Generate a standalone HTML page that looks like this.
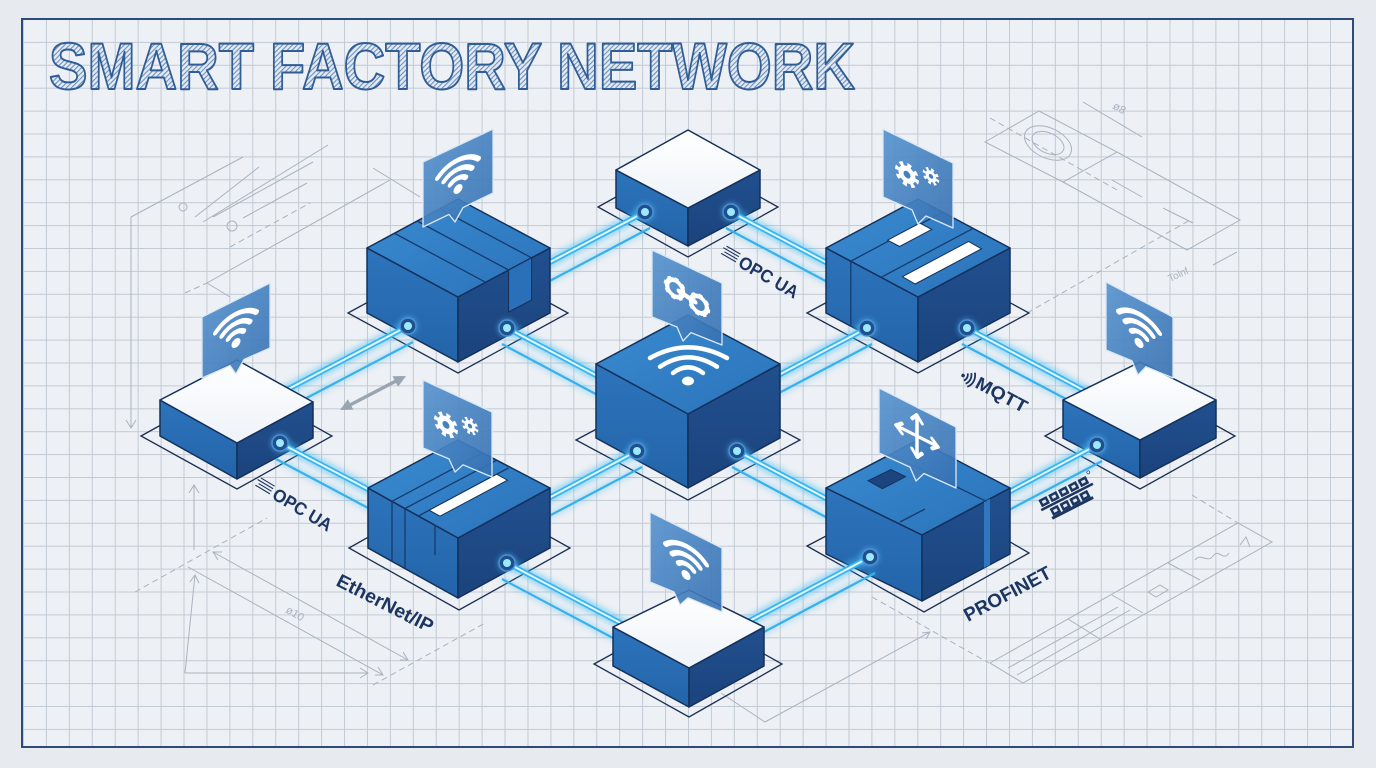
<!DOCTYPE html>
<html><head><meta charset="utf-8"><style>
html,body{margin:0;padding:0;background:#e7ebef;}
svg{display:block}
.cg{stroke:#45bdf5;stroke-width:11;opacity:.5;filter:url(#blur);fill:none;stroke-linecap:round}
.cg2{stroke:#45bdf5;stroke-width:6;opacity:.35;filter:url(#blur);fill:none}
.cm{stroke:#36b4f0;stroke-width:5.5;stroke-linecap:round;fill:none}
.cc{stroke:#e2f9ff;stroke-width:2;stroke-linecap:round;fill:none}
.cs{stroke:#37b0ec;stroke-width:2.2;fill:none}
.ol{stroke:#14305a;stroke-width:1.5;stroke-linejoin:round}
.pl{fill:none;stroke:#1b2f52;stroke-width:1.3}
.sk{fill:none;stroke:#a9b3bf;stroke-width:1}
.skd{fill:none;stroke:#a9b3bf;stroke-width:1;stroke-dasharray:6 4}
.bub{fill:url(#gBub);stroke:#dbe8f5;stroke-width:1.3;stroke-linejoin:round}
.lbl{font-weight:bold;fill:#1c3561}
</style></head><body>
<svg width="1376" height="768" viewBox="0 0 1376 768" xmlns="http://www.w3.org/2000/svg" font-family="'Liberation Sans', Arial, sans-serif">
<defs>
<pattern id="grid" x="23" y="19" width="22.93" height="22.9" patternUnits="userSpaceOnUse"><path d="M0 0.5H23M0.5 0V23" stroke="#c3cbd5" stroke-width="1" fill="none"/></pattern>
<pattern id="hatch" width="3.5" height="3.5" patternUnits="userSpaceOnUse" patternTransform="rotate(45)"><rect width="3.5" height="3.5" fill="#e3eaf3"/><rect width="1.1" height="3.5" fill="#6f90bb"/></pattern>
<filter id="blur" filterUnits="userSpaceOnUse" x="0" y="0" width="1376" height="768"><feGaussianBlur stdDeviation="3"/></filter>
<linearGradient id="gTop" x1="0" y1="0" x2="1" y2="1"><stop offset="0" stop-color="#3a8bd0"/><stop offset="1" stop-color="#2a72ba"/></linearGradient>
<linearGradient id="gLeft" x1="0" y1="0" x2="0" y2="1"><stop offset="0" stop-color="#2d74bc"/><stop offset="1" stop-color="#2364a9"/></linearGradient>
<linearGradient id="gRight" x1="0" y1="0" x2="0" y2="1"><stop offset="0" stop-color="#21508f"/><stop offset="1" stop-color="#1b437c"/></linearGradient>
<linearGradient id="gWhite" x1="0" y1="0" x2="0" y2="1"><stop offset="0" stop-color="#ffffff"/><stop offset="1" stop-color="#eef3f8"/></linearGradient>
<linearGradient id="gBub" x1="0" y1="0" x2="1" y2="1"><stop offset="0" stop-color="#5a95cf" stop-opacity=".93"/><stop offset="1" stop-color="#3570b2" stop-opacity=".9"/></linearGradient>
<g id="wifi"><path d="M-20.5,-6.5 A29,29 0 0 1 20.5,-6.5 M-14.1,-0.1 A20,20 0 0 1 14.1,-0.1 M-7.8,6.2 A11,11 0 0 1 7.8,6.2" fill="none" stroke="#fff" stroke-width="5" stroke-linecap="round"/><circle cx="0" cy="14" r="4.5" fill="#fff"/></g>
<g id="gears">
 <circle cx="-11" cy="4" r="10" fill="none" stroke="#fff" stroke-width="4" stroke-dasharray="3.9 3.95"/>
 <circle cx="-11" cy="4" r="8.5" fill="#fff"/>
 <circle cx="-11" cy="4" r="3.5" fill="#4380c0"/>
 <circle cx="13" cy="-6" r="6.8" fill="none" stroke="#fff" stroke-width="3" stroke-dasharray="2.6 2.74"/>
 <circle cx="13" cy="-6" r="5.5" fill="#fff"/>
 <circle cx="13" cy="-6" r="2.2" fill="#4380c0"/>
</g>
<g id="glink">
 <circle cx="-12" cy="-2" r="9.5" fill="none" stroke="#fff" stroke-width="3.5" stroke-dasharray="3.5 3.9"/>
 <circle cx="-12" cy="-2" r="8" fill="none" stroke="#fff" stroke-width="4.5"/>
 <circle cx="12" cy="3" r="9.5" fill="none" stroke="#fff" stroke-width="3.5" stroke-dasharray="3.5 3.9"/>
 <circle cx="12" cy="3" r="8" fill="none" stroke="#fff" stroke-width="4.5"/>
 <path d="M-8,-1 L8,2" stroke="#fff" stroke-width="5" stroke-linecap="round"/>
</g>
<g id="arrows" fill="none" stroke="#fff" stroke-width="3.5" stroke-linecap="round" stroke-linejoin="round">
 <path d="M0,-21V21M-21,0H21"/>
 <path d="M-5,-15L0,-21L5,-15M-5,15L0,21L5,15M-15,-5L-21,0L-15,5M15,-5L21,0L15,5"/>
</g>
</defs>

<!-- background -->
<rect width="1376" height="768" fill="#e7ebef"/>
<rect x="22" y="19" width="1331" height="728" fill="#edf0f4"/>
<rect x="22" y="19" width="1331" height="728" fill="url(#grid)"/>
<rect x="22" y="19" width="1331" height="728" fill="none" stroke="#2b4b7a" stroke-width="2"/>

<!-- sketch lines -->
<g>
 <path class="sk" d="M131,217L243,157M131,217V428M126,420L131,428L136,420M195,217L259,167M203,222L328,145M213,217L313,162M243,218L307,183M207,283L390,180M373,168L420,197M207,283L230,297"/>
 <path class="skd" d="M230,247L310,203M185,293L207,283"/>
 <circle class="sk" cx="183" cy="207" r="4"/><circle class="sk" cx="232" cy="226" r="5"/>
 <path class="sk" d="M194,550V485M189,493L194,485L199,493M185,673L195,575M190,582L195,575L199,583M185,673H368M360,668L368,673L360,678M213,552L408,660M222,552L213,552L218,560M400,660L408,660L403,652M188,567L383,675M375,675L383,675L378,667"/>
 <path class="skd" d="M135,592L267,518M373,685L487,622"/>
 <text x="0" y="0" transform="translate(285,612) rotate(30)" font-size="11" fill="#a9b3bf">ø10</text>
 <path class="sk" d="M985,142L1039,111L1117,152L1063,182ZM1117,152L1240,220L1187,250L1063,182M1083,102L1142,137M1112,180L1142,197M1163,208L1193,223M1213,265L1237,252"/>
 <ellipse class="sk" cx="1048" cy="143" rx="25" ry="15" transform="rotate(25 1048 143)"/>
 <ellipse class="sk" cx="1048" cy="143" rx="17" ry="10" transform="rotate(25 1048 143)"/>
 <path class="skd" d="M1027,313L1190,220M990,118L1117,190"/>
 <text transform="translate(1112,108) rotate(30)" font-size="11" fill="#a9b3bf">ø8</text>
 <text transform="translate(1170,282) rotate(-25)" font-size="10" fill="#a9b3bf">Tolnf</text>
 <path class="sk" d="M990,663L1238,523L1272,542L1023,683ZM1068,619L1100,639M1112,595L1143,613M1168,563L1200,580M1008,668L1118,607M1017,675L1130,610M1148,592L1160,585L1168,590L1156,597Z"/>
 <path class="skd" d="M1192,495L1238,523M872,597L989,663"/>
 <path class="sk" d="M721,693L765,722L930,632M922,633L930,632L926,639"/>
 <path class="sk" d="M1195,560c6,-8 12,4 18,-4s10,6 16,-3M1240,545l6,-8l4,10"/>
</g>

<!-- title -->
<text x="49" y="89" font-weight="bold" font-size="66" textLength="806" lengthAdjust="spacingAndGlyphs" fill="url(#hatch)" stroke="#2f5d96" stroke-width="2" stroke-linejoin="round">SMART FACTORY NETWORK</text>

<!-- plates -->
<g>
 <polygon class="pl" points="598,207 688,157 778,207 688,257"/>
 <polygon class="pl" points="348,313 458,253 568,313 458,373"/>
 <polygon class="pl" points="807,313 918,253 1029,313 918,373"/>
 <polygon class="pl" points="141,436 237,383 332,436 237,489"/>
 <polygon class="pl" points="576,440 688,380 800,440 688,500"/>
 <polygon class="pl" points="1045,436 1140,383 1235,436 1140,489"/>
 <polygon class="pl" points="349,548 459,486 570,548 459,610"/>
 <polygon class="pl" points="807,546 918,488 1029,553 924,612"/>
 <polygon class="pl" points="594,664 689,612 782,664 689,717"/>
</g>

<!-- Node A -->
<g class="ol">
 <polygon points="616,170 688,208 688,246 616,208" fill="url(#gLeft)"/>
 <polygon points="688,208 760,170 760,208 688,246" fill="url(#gRight)"/>
 <polygon points="688,130 760,170 688,208 616,170" fill="url(#gWhite)"/>
</g>
<g>
 <path class="cg" d="M645,212L520,278M731,212L850,275"/>
 <path class="cg2" d="M650,228L525,294M726,228L850,294"/>
 <path class="cm" d="M645,212L520,278M731,212L850,275"/>
 <path class="cc" d="M645,212L520,278M731,212L850,275"/>
 <path class="cs" d="M650,228L525,294M726,228L850,294"/>
</g>

<!-- Node B -->
<g class="ol">
 <polygon points="367,248 458,297 458,362 367,313" fill="url(#gLeft)"/>
 <polygon points="458,297 550,248 550,313 458,362" fill="url(#gRight)"/>
 <polygon points="458,199 550,248 458,297 367,248" fill="url(#gTop)"/>
</g>
<polygon points="508.6,270 531.6,257.8 531.6,300 508.6,312" fill="#2a70b8" stroke="#14305a" stroke-width="1"/>
<path d="M394,233L485.6,282.3M417,221L508.6,270M440,209L531.6,257.8" stroke="#173a6c" stroke-width="1.3" fill="none"/>
<g>
 <path class="cg" d="M408,326L275,396M507,328L620,388"/>
 <path class="cg2" d="M413,342L280,412M502,344L620,407"/>
 <path class="cm" d="M408,326L275,396M507,328L620,388"/>
 <path class="cc" d="M408,326L275,396M507,328L620,388"/>
 <path class="cs" d="M413,342L280,412M502,344L620,407"/>
</g>

<!-- Node C -->
<g class="ol">
 <polygon points="826,248 918,297 918,362 826,313" fill="url(#gLeft)"/>
 <polygon points="918,297 1010,248 1010,313 918,362" fill="url(#gRight)"/>
 <polygon points="918,199 1010,248 918,297 826,248" fill="url(#gTop)"/>
</g>
<path d="M850.8,261.2L942.8,212.2M850.8,261.2V326.2M881,277.4L973,228.4" stroke="#173a6c" stroke-width="1.3" fill="none"/>
<polygon points="887.6,240.2 919.8,223 931.8,229.4 899.6,246.5" fill="#fff" stroke="#14305a" stroke-width="1"/>
<polygon points="902.4,276.7 968.6,241.4 981.5,248.8 915.2,284" fill="#fff" stroke="#14305a" stroke-width="1"/>
<g>
 <path class="cg" d="M867,328L760,385M967,328L1100,399"/>
 <path class="cg2" d="M872,344L760,403M962,344L1100,417"/>
 <path class="cm" d="M867,328L760,385M967,328L1100,399"/>
 <path class="cc" d="M867,328L760,385M967,328L1100,399"/>
 <path class="cs" d="M872,344L760,403M962,344L1100,417"/>
</g>

<!-- Node D -->
<g class="ol">
 <polygon points="160,400 237,443 237,479 160,436" fill="url(#gLeft)"/>
 <polygon points="237,443 313,402 313,438 237,479" fill="url(#gRight)"/>
 <polygon points="237,360 313,402 237,443 160,400" fill="url(#gWhite)"/>
</g>
<g>
 <path class="cg" d="M280,443L400,506"/>
 <path class="cg2" d="M276,459L400,525"/>
 <path class="cm" d="M280,443L400,506"/>
 <path class="cc" d="M280,443L400,506"/>
 <path class="cs" d="M276,459L400,525"/>
</g>

<!-- Node E -->
<g class="ol">
 <polygon points="596,364 688,414 688,488 596,438" fill="url(#gLeft)"/>
 <polygon points="688,414 780,364 780,438 688,488" fill="url(#gRight)"/>
 <polygon points="688,315 780,364 688,414 596,364" fill="url(#gTop)"/>
</g>
<path d="M650,358Q688,336.7 727,358M660,366.7Q688,348 717,366.7M673,373Q688,361.7 703,373" fill="none" stroke="#fff" stroke-width="4.5" stroke-linecap="round"/>
<ellipse cx="688" cy="381" rx="6" ry="4.5" fill="#fff"/>
<g>
 <path class="cg" d="M637,451L530,508M737,451L850,511"/>
 <path class="cg2" d="M642,467L530,526M732,467L850,530"/>
 <path class="cm" d="M637,451L530,508M737,451L850,511"/>
 <path class="cc" d="M637,451L530,508M737,451L850,511"/>
 <path class="cs" d="M642,467L530,526M732,467L850,530"/>
</g>

<!-- Node F -->
<g class="ol">
 <polygon points="1063,400 1140,440 1140,478 1063,438" fill="url(#gLeft)"/>
 <polygon points="1140,440 1216,400 1216,438 1140,478" fill="url(#gRight)"/>
 <polygon points="1140,362 1216,400 1140,440 1063,400" fill="url(#gWhite)"/>
</g>
<g>
 <path class="cg" d="M1097,445L990,502"/>
 <path class="cg2" d="M1102,461L990,520"/>
 <path class="cm" d="M1097,445L990,502"/>
 <path class="cc" d="M1097,445L990,502"/>
 <path class="cs" d="M1102,461L990,520"/>
</g>

<!-- Node G -->
<g class="ol">
 <polygon points="368,488 458,538 458,598 368,548" fill="url(#gLeft)"/>
 <polygon points="458,538 550,488 550,548 458,598" fill="url(#gRight)"/>
 <polygon points="458,440 550,488 458,538 368,488" fill="url(#gTop)"/>
</g>
<path d="M392,501.3V561M405,508.5V568M435,525.2V555M392,501.3L482.7,452.9M405,508.5L496.2,460.4M418.4,516L508.4,468" stroke="#173a6c" stroke-width="1.3" fill="none"/>
<polygon points="429.2,510.2 496.7,474.2 507.5,480.2 440,516.2" fill="#fff" stroke="#14305a" stroke-width="1"/>
<g>
 <path class="cg" d="M507,563L630,628"/>
 <path class="cg2" d="M502,579L630,647"/>
 <path class="cm" d="M507,563L630,628"/>
 <path class="cc" d="M507,563L630,628"/>
 <path class="cs" d="M502,579L630,647"/>
</g>

<!-- Node H -->
<g class="ol">
 <polygon points="826,488 922,535 922,601 826,554" fill="url(#gLeft)"/>
 <polygon points="922,535 1010,488 1010,554 922,601" fill="url(#gRight)"/>
 <polygon points="918,440 1010,488 922,535 826,488" fill="url(#gTop)"/>
</g>
<polygon points="984,501.9 990,498.7 990,564.7 984,567.9" fill="#2f78c0"/>
<polygon points="868,480.7 891,469.6 905.4,476.7 882.4,488.7" fill="#1c4580" stroke="#14305a" stroke-width="1"/>
<path d="M890.4,454.4L986.4,501.4M900,522L925,509" stroke="#173a6c" stroke-width="1.3" fill="none"/>
<g>
 <path class="cg" d="M870,557L740,626"/>
 <path class="cg2" d="M875,573L745,642"/>
 <path class="cm" d="M870,557L740,626"/>
 <path class="cc" d="M870,557L740,626"/>
 <path class="cs" d="M875,573L745,642"/>
</g>

<!-- Node I -->
<g class="ol">
 <polygon points="613,627 689,668 689,707 613,666" fill="url(#gLeft)"/>
 <polygon points="689,668 764,627 764,666 689,707" fill="url(#gRight)"/>
 <polygon points="689,590 764,627 689,668 613,627" fill="url(#gWhite)"/>
</g>

<!-- ports -->
<g>
 <g fill="#5cc8ff" opacity=".55" filter="url(#blur)">
  <circle cx="645" cy="212" r="9"/><circle cx="731" cy="212" r="9"/>
  <circle cx="408" cy="326" r="9"/><circle cx="507" cy="328" r="9"/>
  <circle cx="867" cy="328" r="9"/><circle cx="967" cy="328" r="9"/>
  <circle cx="280" cy="443" r="9"/><circle cx="637" cy="451" r="9"/><circle cx="737" cy="451" r="9"/>
  <circle cx="1097" cy="445" r="9"/><circle cx="507" cy="563" r="9"/><circle cx="870" cy="557" r="9"/>
 </g>
 <g fill="#1f4f8c" stroke="#4a8fd2" stroke-width="1.5">
  <circle cx="645" cy="212" r="8"/><circle cx="731" cy="212" r="8"/>
  <circle cx="408" cy="326" r="8"/><circle cx="507" cy="328" r="8"/>
  <circle cx="867" cy="328" r="8"/><circle cx="967" cy="328" r="8"/>
  <circle cx="280" cy="443" r="8"/><circle cx="637" cy="451" r="8"/><circle cx="737" cy="451" r="8"/>
  <circle cx="1097" cy="445" r="8"/><circle cx="507" cy="563" r="8"/><circle cx="870" cy="557" r="8"/>
 </g>
 <g fill="#9be8ff">
  <circle cx="645" cy="212" r="4"/><circle cx="731" cy="212" r="4"/>
  <circle cx="408" cy="326" r="4"/><circle cx="507" cy="328" r="4"/>
  <circle cx="867" cy="328" r="4"/><circle cx="967" cy="328" r="4"/>
  <circle cx="280" cy="443" r="4"/><circle cx="637" cy="451" r="4"/><circle cx="737" cy="451" r="4"/>
  <circle cx="1097" cy="445" r="4"/><circle cx="507" cy="563" r="4"/><circle cx="870" cy="557" r="4"/>
 </g>
</g>

<!-- bubbles -->
<path class="bub" d="M423,162 L493,129 L493,193 L463,207.6 L455,222 L449,214.4 L423,227 Z"/>
<use href="#wifi" transform="matrix(1,-0.47,0,1,458,175)"/>
<path class="bub" d="M883,129 L953,163 L953,228 L926,216 L918,224 L912,209.8 L883,197 Z"/>
<use href="#gears" transform="matrix(1,0.486,0,1,918,176)"/>
<path class="bub" d="M202,317 L270,283 L270,348 L244,359.5 L236,374 L230,365.6 L202,378 Z"/>
<use href="#wifi" transform="matrix(1,-0.5,0,1,236,329)"/>
<path class="bub" d="M652,250 L722,283 L722,345 L691,332.6 L683,341 L677,327 L652,317 Z"/>
<use href="#glink" transform="matrix(1,0.471,0,1,687,296)"/>
<path class="bub" d="M1106,282 L1173,317 L1173,378 L1146,366.7 L1138,375 L1132,360.9 L1106,350 Z"/>
<use href="#wifi" transform="matrix(1,0.52,0,1,1139,329)"/>
<path class="bub" d="M423,380 L492,412 L492,477 L463,464.8 L455,472 L449,458.9 L423,448 Z"/>
<use href="#gears" transform="matrix(1,0.464,0,1,457,426)"/>
<path class="bub" d="M879,388 L956,427 L956,488 L924,473.5 L916,481 L910,467.1 L879,453 Z"/>
<use href="#arrows" transform="matrix(1,0.506,0,1,917,436)"/>
<path class="bub" d="M650,512 L722,548 L722,612 L688,597.8 L680,605 L674,592 L650,582 Z"/>
<use href="#wifi" transform="matrix(1,0.5,0,1,686,561)"/>

<!-- double arrow -->
<g fill="#9aa5b2" stroke="none">
 <path d="M350,405L396,381" stroke="#9aa5b2" stroke-width="3.5"/>
 <polygon points="406,376 398,386.8 392.5,376.2"/>
 <polygon points="340,410 353.4,409.8 347.9,399.2"/>
</g>

<!-- labels -->
<g transform="translate(737,266) rotate(30)">
 <path d="M-19,-12H-3M-21,-9H-3M-18,-6H-3M-20,-3H-3" stroke="#1c3561" stroke-width="1.1"/>
 <text class="lbl" x="0" y="0" font-size="18" textLength="66" lengthAdjust="spacingAndGlyphs">OPC UA</text>
</g>
<g transform="translate(271,498) rotate(31)">
 <path d="M-19,-12H-3M-21,-9H-3M-18,-6H-3M-20,-3H-3" stroke="#1c3561" stroke-width="1.1"/>
 <text class="lbl" x="0" y="0" font-size="18" textLength="66" lengthAdjust="spacingAndGlyphs">OPC UA</text>
</g>
<g transform="translate(974,387) rotate(28)">
 <path d="M-12,-9A6,6 0 0 1 -12,-1M-9,-11A9,9 0 0 1 -9,1M-6,-13A12,12 0 0 1 -6,3" fill="none" stroke="#1c3561" stroke-width="1.8"/>
 <circle cx="-15" cy="-5" r="1.8" fill="#1c3561"/>
 <text class="lbl" x="0" y="0" font-size="18" font-weight="normal" textLength="56" lengthAdjust="spacingAndGlyphs">MQTT</text>
</g>
<text class="lbl" transform="translate(335,585) rotate(27)" font-size="19" textLength="106" lengthAdjust="spacingAndGlyphs">EtherNet/IP</text>
<text class="lbl" transform="translate(968,622) rotate(-28)" font-size="19" textLength="96" lengthAdjust="spacingAndGlyphs">PROFINET</text>
<g transform="translate(1047,517) rotate(-27)" fill="#1c3561">
 <rect x="0" y="-19" width="9" height="8"/><rect x="11" y="-19" width="9" height="8"/><rect x="22" y="-19" width="9" height="8"/><rect x="33" y="-19" width="9" height="8"/><rect x="44" y="-19" width="9" height="8"/>
 <rect x="-2" y="-10" width="58" height="2.5"/>
 <rect x="6" y="-6" width="9" height="8"/><rect x="17" y="-6" width="9" height="8"/><rect x="28" y="-6" width="9" height="8"/><rect x="39" y="-6" width="9" height="8"/>
 <rect x="4" y="2" width="46" height="3"/>
 <g fill="#dfe7f1"><rect x="2.5" y="-16.5" width="4" height="3"/><rect x="13.5" y="-16.5" width="4" height="3"/><rect x="24.5" y="-16.5" width="4" height="3"/><rect x="35.5" y="-16.5" width="4" height="3"/><rect x="46.5" y="-16.5" width="4" height="3"/>
 <rect x="8.5" y="-3.5" width="4" height="3"/><rect x="19.5" y="-3.5" width="4" height="3"/><rect x="30.5" y="-3.5" width="4" height="3"/><rect x="41.5" y="-3.5" width="4" height="3"/></g>
 <circle cx="57" cy="-21" r="1.5" fill="none" stroke="#1c3561" stroke-width=".6"/>
</g>
</svg>
</body></html>
